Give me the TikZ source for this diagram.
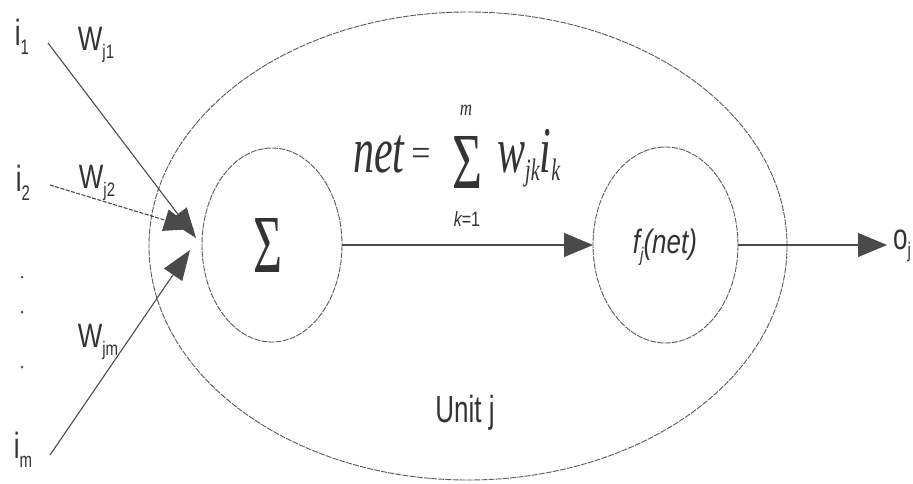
\documentclass[tikz,border=0pt]{standalone}
\usepackage{fontspec}
\setmainfont{Liberation Sans}
\newfontfamily\serifit{Liberation Serif}[ItalicFont={* Italic}]
\usepackage{graphicx}
\usetikzlibrary{arrows.meta}
\newcommand{\tallbox}[2]{\scalebox{1}[#1]{#2}}
\newcommand{\sbs}[1]{\raisebox{-0.45ex}{\fontsize{15}{15}\selectfont #1}}
\definecolor{ln}{HTML}{4A4A4A}
\definecolor{ell}{HTML}{5A5A5A}
\definecolor{tx}{HTML}{333333}
\tikzset{
  ellline/.style={draw=ell, line width=0.9pt, dash pattern=on 6pt off 1.2pt},
  conn/.style={draw=ln, line width=1.1pt},
  bigtip/.style={-{Triangle[length=29pt,width=24pt]}},
  intip/.style={-{Triangle[length=30pt,width=22pt]}},
  lab/.style={text=tx, inner sep=0pt, font=\fontsize{26}{28}\selectfont},
  frm/.style={text=tx, inner sep=0pt, font=\serifit\itshape\fontsize{42}{44}\selectfont},
}
\begin{document}
\begin{tikzpicture}[x=1pt,y=-1pt]
\useasboundingbox[fill=white] (0,0) rectangle (913,484);
% ellipses
\draw[ellline] (468,246) ellipse [x radius=319, y radius=234];
\draw[ellline] (272,245) ellipse [x radius=70, y radius=97];
\draw[ellline] (665.5,245) ellipse [x radius=72.5, y radius=98];
\coordinate (sigR) at (342,245);
\coordinate (fL) at (593,245);
\coordinate (fR) at (738,245);
\coordinate (out) at (887,245);
% sums
\node[text=tx, inner sep=0pt] (sig) at (268,245) {\resizebox*{29pt}{54pt}{\serifit Σ}};
\node[lab] (fnet) at (665,247) {\tallbox{1.3}{\itshape f\sbs{j}(net)}};
\draw[conn, bigtip] (sigR) -- (fL);
\draw[conn, bigtip] (fR) -- (out);
\node[lab, anchor=west] (oj) at (893,246) {\tallbox{1.4}{o\sbs{j}}};
% formula
\node[frm, anchor=base] (net) at (379,172) {\tallbox{1.55}{net}};
\node[text=tx, inner sep=0pt, font=\serifit\fontsize{34}{34}\selectfont] (eq) at (421,157) {\tallbox{1.1}{=}};
\node[text=tx, inner sep=0pt] (bsum) at (467,162) {\resizebox*{30pt}{52pt}{\serifit Σ}};
\node[text=tx, inner sep=0pt, font=\serifit\itshape\fontsize{17}{17}\selectfont] (sm) at (466,110) {\tallbox{1.3}{m}};
\node[text=tx, inner sep=0pt, font=\fontsize{16}{16}\selectfont] (sk) at (467,219) {\tallbox{1.3}{\itshape k\upshape =1}};
\node[frm, anchor=base west] (wik) at (497,172) {\tallbox{1.55}{w\raisebox{-0.3ex}{\fontsize{20}{20}\selectfont jk}i\raisebox{-0.3ex}{\fontsize{20}{20}\selectfont k}}};
% inputs
\node[lab] (i1) at (22,37) {\tallbox{1.4}{i\sbs{1}}};
\node[lab] (i2) at (23,183) {\tallbox{1.4}{i\sbs{2}}};
\node[lab] (im) at (23,450) {\tallbox{1.4}{i\sbs{m}}};
\node[lab] (w1) at (96,45) {\tallbox{1.3}{W\sbs{j1}}};
\node[lab] (w2) at (97,183) {\tallbox{1.3}{W\sbs{j2}}};
\node[lab] (wm) at (98,342) {\tallbox{1.3}{W\sbs{jm}}};
\foreach \yy [count=\k] in {277,312,367} {
  \node[circle, fill=ell, inner sep=0pt, minimum size=3pt] (dot\k) at (22,\yy) {};
}
\coordinate (s1) at (48,43);
\coordinate (s2) at (50,185);
\coordinate (sm0) at (50,455);
\coordinate (t1) at (196,238);
\coordinate (t2) at (194,229);
\coordinate (tm) at (190,250);
\draw[conn, intip] (s1) -- (t1);
\draw[conn, intip, dash pattern=on 4pt off 1.5pt] (s2) -- (t2);
\draw[conn, intip] (sm0) -- (tm);
\node[lab] (unitj) at (465,413) {\tallbox{1.45}{Unit j}};
\end{tikzpicture}
\end{document}
